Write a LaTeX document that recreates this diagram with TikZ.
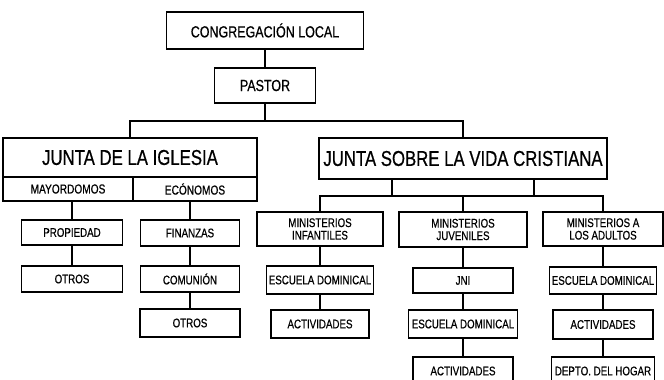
\documentclass[tikz,border=0pt]{standalone}
\usepackage{fontspec}
\setmainfont{Liberation Sans}[FakeStretch=0.78, FakeBold=0.6]
\usepackage{tikz}

\tikzset{
  caja/.style={draw, line width=1.4pt, fill=white, inner sep=1pt, align=center,
    font=\fontsize{12.5}{12.5}\selectfont},
  grande/.style={font=\fontsize{16}{16}\selectfont},
  junta/.style={font=\fontsize{21.5}{21.5}\selectfont},
  linea/.style={line width=1.4pt}
}

\begin{document}
\begin{tikzpicture}[x=1pt, y=-1pt]
    \useasboundingbox (0,0) rectangle (664,380);

    \node[caja, grande, minimum width=197pt, minimum height=37pt] (cong) at (265,30.5) {CONGREGACIÓN LOCAL};
    \node[caja, grande, minimum width=101pt, minimum height=35pt] (pastor) at (265,85.5) {PASTOR};

    \node[caja, junta, minimum width=254pt, minimum height=39pt] (iglesia) at (130,157.5) {JUNTA DE LA IGLESIA};
    \node[caja, minimum width=130pt, minimum height=24pt, font=\fontsize{13}{13}\selectfont] (mayor) at (68,189) {MAYORDOMOS};
    \node[caja, minimum width=124pt, minimum height=24pt, font=\fontsize{13}{13}\selectfont] (econ) at (195,189) {ECÓNOMOS};
    \node[caja, junta, minimum width=288pt, minimum height=41pt] (vida) at (463,158.5) {JUNTA SOBRE LA VIDA CRISTIANA};

    % junta de la iglesia
    \node[caja, minimum width=101pt, minimum height=25pt] (propiedad) at (72,232.5) {PROPIEDAD};
    \node[caja, minimum width=101pt, minimum height=26pt] (otrosa) at (72,279) {OTROS};
    \node[caja, minimum width=99pt, minimum height=26pt] (finanzas) at (190,233) {FINANZAS};
    \node[caja, minimum width=99pt, minimum height=26pt] (comunion) at (190,279) {COMUNIÓN};
    \node[caja, minimum width=100pt, minimum height=28pt] (otrosb) at (190,323) {OTROS};

    % ministerios
    \node[caja, minimum width=126pt, minimum height=34pt] (infantil) at (320,229) {MINISTERIOS\\INFANTILES};
    \node[caja, minimum width=128pt, minimum height=35pt] (juvenil) at (463,229.5) {MINISTERIOS\\JUVENILES};
    \node[caja, minimum width=120pt, minimum height=34pt] (adultos) at (603,229) {MINISTERIOS A\\LOS ADULTOS};

    \node[caja, minimum width=107pt, minimum height=28pt] (escuelaa) at (320,280) {ESCUELA DOMINICAL};
    \node[caja, minimum width=98pt, minimum height=28pt] (activa) at (320,324) {ACTIVIDADES};

    \node[caja, minimum width=100pt, minimum height=25pt] (jni) at (463,280.5) {JNI};
    \node[caja, minimum width=109pt, minimum height=28pt] (escuelab) at (463,324) {ESCUELA DOMINICAL};
    \node[caja, minimum width=100pt, minimum height=28pt] (activb) at (463,371) {ACTIVIDADES};

    \node[caja, minimum width=107pt, minimum height=27pt] (escuelac) at (603,280.5) {ESCUELA DOMINICAL};
    \node[caja, minimum width=100pt, minimum height=29pt] (activc) at (603,324.5) {ACTIVIDADES};
    \node[caja, minimum width=103pt, minimum height=28pt] (depto) at (603,371) {DEPTO. DEL HOGAR};

    \coordinate (b1) at (265,121);
    \coordinate (h1) at (392,196);
    \coordinate (h2) at (534,196);

    \draw[linea] (cong) -- (pastor);
    \draw[linea] (pastor) -- (b1);
    \draw[linea] (iglesia.north) |- (b1) -| (vida.north);

    \draw[linea] (propiedad.north |- mayor.south) -- (propiedad.north);
    \draw[linea] (finanzas.north |- econ.south) -- (finanzas.north);
    \draw[linea] (propiedad) -- (otrosa);
    \draw[linea] (finanzas) -- (comunion);
    \draw[linea] (comunion) -- (otrosb);

    \draw[linea] (vida.south -| h1) -- (h1);
    \draw[linea] (vida.south -| h2) -- (h2);
    \draw[linea] (infantil.north) |- (h1) -- (h2) -| (adultos.north);
    \draw[linea] (juvenil.north) -- (juvenil.north |- h1);

    \draw[linea] (infantil) -- (escuelaa);
    \draw[linea] (escuelaa) -- (activa);
    \draw[linea] (juvenil) -- (jni);
    \draw[linea] (jni) -- (escuelab);
    \draw[linea] (escuelab) -- (activb);
    \draw[linea] (adultos) -- (escuelac);
    \draw[linea] (escuelac) -- (activc);
    \draw[linea] (activc) -- (depto);

\end{tikzpicture}
\end{document}
